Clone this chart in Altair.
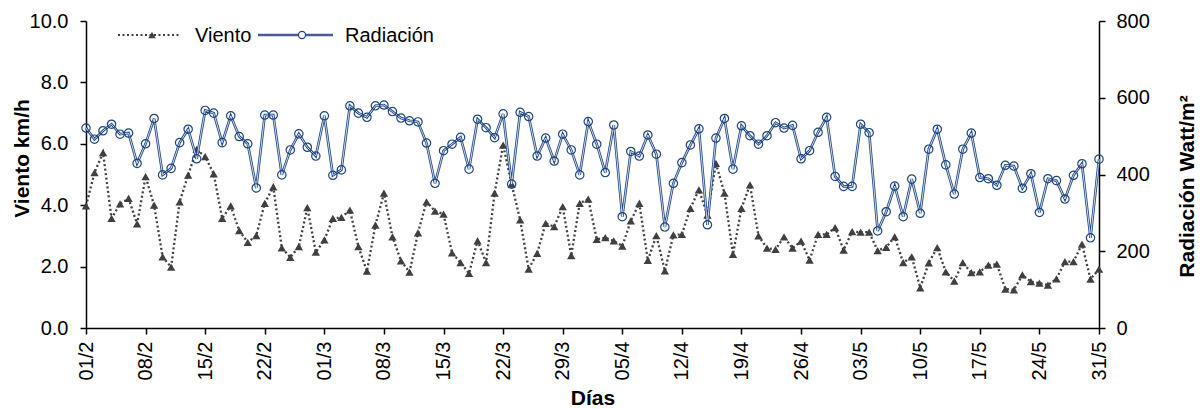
import altair as alt
import pandas as pd

# Day index 0 = 01/2 ... 119 = 31/5
days = list(range(120))

viento = [
    3.98, 5.06, 5.71, 3.57, 4.04, 4.22, 3.39, 4.93, 4.00, 2.32,
    1.98, 4.11, 4.98, 5.82, 5.58, 5.02, 3.57, 3.98, 3.17, 2.79,
    3.01, 4.06, 4.60, 2.61, 2.30, 2.65, 3.92, 2.47, 2.87, 3.57,
    3.60, 3.84, 2.65, 1.85, 3.35, 4.39, 2.97, 2.19, 1.82, 3.10,
    4.11, 3.81, 3.71, 2.45, 2.13, 1.78, 2.84, 2.13, 4.39, 5.96,
    4.69, 3.52, 1.92, 2.43, 3.41, 3.30, 3.95, 2.36, 4.06, 4.20,
    2.89, 2.94, 2.84, 2.67, 3.49, 4.06, 2.20, 3.01, 1.86, 3.03,
    3.05, 3.90, 4.50, 3.68, 5.36, 4.39, 2.40, 3.90, 4.66, 3.00,
    2.60, 2.56, 2.97, 2.60, 2.83, 2.21, 3.05, 3.05, 3.27, 2.54,
    3.14, 3.12, 3.12, 2.52, 2.63, 2.97, 2.13, 2.32, 1.31, 2.12,
    2.62, 1.83, 1.53, 2.13, 1.80, 1.83, 2.05, 2.08, 1.27, 1.24,
    1.73, 1.51, 1.46, 1.40, 1.60, 2.16, 2.16, 2.73, 1.59, 1.92,
]

radiacion = [
    521, 492, 514, 531, 505, 508, 429, 480, 546, 399,
    416, 483, 518, 441, 567, 560, 483, 553, 499, 480,
    365, 555, 555, 399, 464, 506, 471, 448, 553, 398,
    412, 579, 560, 549, 579, 581, 564, 547, 540, 537,
    482, 377, 462, 479, 497, 414, 544, 522, 496, 558,
    375, 562, 551, 448, 495, 435, 505, 464, 399, 538,
    479, 405, 529, 290, 460, 448, 503, 453, 263, 377,
    431, 477, 519, 269, 495, 546, 414, 527, 501, 479,
    501, 535, 521, 528, 441, 462, 510, 549, 395, 369,
    369, 531, 509, 253, 303, 370, 290, 388, 299, 466,
    518, 425, 349, 466, 508, 392, 389, 372, 424, 422,
    364, 402, 301, 389, 384, 336, 398, 428, 235, 440,
]

tick_labels = ["01/2", "08/2", "15/2", "22/2", "01/3", "08/3", "15/3", "22/3", "29/3",
               "05/4", "12/4", "19/4", "26/4", "03/5", "10/5", "17/5", "24/5", "31/5"]
tick_pos = [7 * i for i in range(len(tick_labels))]
left_ticks = [0, 2, 4, 6, 8, 10]
right_ticks = [0, 200, 400, 600, 800]

df = pd.DataFrame({"dia": days, "viento": viento, "radiacion": radiacion})

FONT = "Liberation Sans"
GRAY = "#404040"
BLUE = "#1C4483"

label_js = "[" + ",".join("'%s'" % l for l in tick_labels) + "][round(datum.value/7)]"

x_enc = alt.X(
    "dia:Q",
    scale=alt.Scale(domain=[0, 119], nice=False, zero=False),
    axis=alt.Axis(
        values=tick_pos, labelExpr=label_js, labelAngle=270, labelAlign="right",
        labelBaseline="middle", labelPadding=7, tickSize=6, title="Días",
        titleX=506.5, titleY=70, titleBaseline="middle", titleAlign="center",
    ),
)

base = alt.Chart(df)

y_wind = alt.Y(
    "viento:Q",
    scale=alt.Scale(domain=[0, 10], nice=False),
    axis=alt.Axis(values=left_ticks, format=".1f", title="Viento km/h", orient="left",
                  labelPadding=12, tickSize=6, titleAngle=270, titleX=-64, titleY=137,
                  titleBaseline="middle", titleAlign="center"),
)
wind_line = base.mark_line(color=GRAY, strokeWidth=2.3, strokeDash=[2, 2.5]).encode(x=x_enc, y=y_wind)
wind_pts = base.mark_point(shape="triangle-up", filled=True, size=70, color=GRAY, opacity=1).encode(x=x_enc, y=y_wind)
wind_layer = alt.layer(wind_line, wind_pts)

y_rad = alt.Y(
    "radiacion:Q",
    scale=alt.Scale(domain=[0, 800], nice=False),
    axis=alt.Axis(values=right_ticks, format="d", title="Radiación Watt/m²", orient="right",
                  labelPadding=11, tickSize=6, titleAngle=270, titleX=88, titleY=165,
                  titleBaseline="middle", titleAlign="center"),
)
rad_outer = base.mark_line(color=BLUE, strokeWidth=2.6).encode(x=x_enc, y=y_rad)
rad_inner = base.mark_line(color="white", strokeWidth=0.8).encode(x=x_enc, y=y_rad)
rad_pts = base.mark_point(shape="circle", filled=False, size=70, color=BLUE, strokeWidth=1.2, opacity=1).encode(x=x_enc, y=y_rad)
rad_layer = alt.layer(rad_outer, rad_inner, rad_pts)

# Legend
leg = alt.Chart(pd.DataFrame({"k": [0]}))
leg_marks = [
    leg.mark_rule(color=GRAY, strokeWidth=2.2, strokeDash=[2, 2.5]).encode(x=alt.value(32), x2=alt.value(94), y=alt.value(14)),
    leg.mark_point(shape="triangle-up", filled=True, size=55, color=GRAY, opacity=1).encode(x=alt.value(66), y=alt.value(14)),
    leg.mark_text(text="Viento", align="left", baseline="middle", font=FONT, fontSize=20, color="black").encode(x=alt.value(109), y=alt.value(15)),
    leg.mark_rule(color="#4A5D9B", strokeWidth=2.4).encode(x=alt.value(172), x2=alt.value(247), y=alt.value(14)),
    leg.mark_point(shape="circle", filled=True, fill="white", size=50, color=BLUE, stroke=BLUE, strokeWidth=1.2, opacity=1).encode(x=alt.value(216), y=alt.value(14)),
    leg.mark_text(text="Radiación", align="left", baseline="middle", font=FONT, fontSize=20, color="black").encode(x=alt.value(259), y=alt.value(15)),
]

chart = alt.layer(
    alt.layer(wind_layer, rad_layer).resolve_scale(y="independent"),
    *leg_marks,
).properties(
    width=1013, height=307,
    autosize=alt.AutoSizeParams(type="none"),
    padding={"left": 86, "top": 21, "right": 104, "bottom": 81},
    background="white",
).configure_axis(
    grid=False, domainColor="black", tickColor="black", domainWidth=1.5, tickWidth=1.5,
    labelFont=FONT, labelFontSize=20, labelColor="black",
    titleFont=FONT, titleFontSize=21, titleFontWeight="bold", titleColor="black",
).configure_view(stroke=None)

chart.save("out.html", embed_options={"renderer": "svg", "actions": False})
